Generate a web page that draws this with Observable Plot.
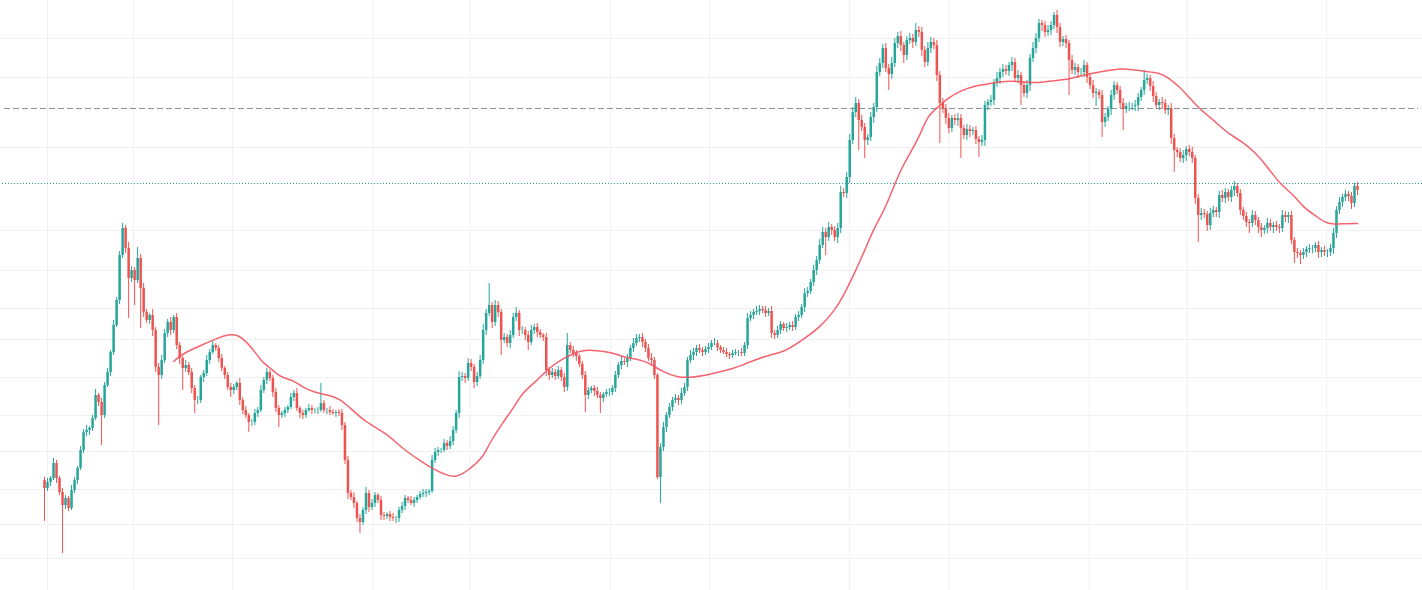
<!DOCTYPE html>
<html>
<head>
<meta charset="utf-8">
<script src="https://cdn.jsdelivr.net/npm/d3@7"></script>
<script src="https://cdn.jsdelivr.net/npm/@observablehq/plot@0.6"></script>
<style>
  html, body { margin: 0; padding: 0; background: #ffffff; }
  #chart svg { display: block; }
</style>
</head>
<body>
<div id="chart"></div>
<script>
// ---- data (price units; one candle per session, open = previous close) ----
const firstOpen = 120;
const closes = [
  112,118,122,137,122,108,95,102,92,110,
  120,132,150,168,170,172,182,205,198,185,
  215,228,248,275,300,345,372,352,322,330,
  320,342,312,288,280,285,270,233,225,240,
  267,278,270,283,255,242,232,235,228,212,
  200,200,223,227,240,248,255,252,242,232,
  225,213,210,213,217,200,190,185,178,178,
  187,190,210,220,228,222,208,192,185,187,
  190,193,203,207,192,187,185,190,192,190,
  190,190,197,190,190,188,187,188,187,175,
  140,107,103,97,82,78,90,107,93,97,
  105,100,85,84,86,83,82,82,90,94,
  102,100,97,100,103,106,107,108,109,140,
  148,150,150,157,154,159,170,187,223,224,
  222,237,233,218,224,240,270,287,295,278,
  295,288,260,263,257,265,283,287,270,270,
  265,258,270,273,268,265,263,230,225,228,
  224,230,223,213,255,250,247,244,236,225,
  205,210,212,209,205,202,206,208,208,212,
  225,235,239,238,242,252,257,262,263,258,
  252,242,240,225,123,153,173,185,193,200,
  202,200,207,213,240,245,248,252,250,248,
  251,253,257,257,253,250,248,246,245,247,
  248,248,247,255,282,285,288,289,291,290,
  287,289,267,265,270,276,272,273,275,273,
  283,285,293,307,309,318,330,340,355,368,
  363,373,370,363,372,408,407,423,460,488,
  497,480,473,460,463,483,493,528,537,552,
  532,526,537,557,564,555,545,560,562,558,
  570,568,550,538,552,558,555,525,497,492,
  482,472,482,480,482,472,465,471,469,470,
  461,458,460,495,498,500,517,522,528,531,
  529,535,538,522,525,515,507,515,542,552,
  562,577,575,568,570,575,585,573,558,561,
  557,540,530,533,528,528,535,523,515,507,
  508,505,478,483,491,505,515,510,497,491,
  494,494,494,495,503,510,520,522,514,504,
  495,498,497,490,492,462,450,448,442,445,
  451,448,442,402,385,387,386,375,387,390,
  388,405,402,408,403,410,414,407,390,384,
  378,377,385,380,373,370,372,377,373,375,
  373,372,385,383,385,360,348,347,345,348,
  351,352,352,355,348,350,348,348,352,367,
  390,398,403,406,404,397,414,410
];
const wickUp = [
  3,4,2,5,3,2,4,3,2,5, 3,2,4,3,5,2,3,6,2,4, 3,4,2,5,3,4,5,3,6,4, 3,11,4,5,3,2,6,3,4,5,
  4,3,5,2,4,3,2,5,3,4, 3,4,2,3,5,3,4,2,3,4, 2,3,4,3,2,5,3,4,2,3, 4,3,5,3,4,2,3,4,3,2,
  3,2,4,3,5,2,3,2,4,3, 2,3,20,3,2,4,3,2,3,4, 3,4,3,5,2,4,3,6,3,4, 3,2,4,3,2,3,4,2,3,4,
  3,2,4,3,2,3,4,3,2,5, 4,3,2,4,3,5,4,3,6,4, 3,5,4,3,4,5,6,4,22,3, 5,4,3,4,3,5,4,6,3,4,
  3,4,5,3,4,3,2,4,3,4, 3,4,3,4,12,3,4,3,2,3, 4,3,2,3,4,3,2,3,4,3, 4,3,5,3,4,3,5,4,3,4,
  3,4,5,3,2,4,5,3,4,3, 4,3,5,4,3,5,4,3,4,3, 3,4,3,5,3,2,3,4,2,3, 3,2,4,3,5,4,3,5,4,3,
  4,3,5,3,4,3,2,4,3,4, 3,4,3,5,4,3,5,4,6,5, 4,5,3,4,5,6,4,5,6,5, 6,4,5,4,3,5,4,6,5,4,
  5,4,6,5,4,5,3,4,5,4, 7,4,5,4,6,5,4,5,4,5, 4,5,3,4,5,4,3,5,4,3, 4,3,5,4,3,5,4,6,4,5,
  4,3,5,4,5,3,4,5,4,6, 5,4,3,4,5,4,3,5,4,3, 4,3,5,4,3,4,5,3,4,5, 4,3,5,4,3,5,4,3,4,5,
  3,4,3,5,4,3,10,4,3,5, 4,3,5,4,3,5,4,3,4,5, 3,4,5,3,4,5,4,3,5,4, 3,4,5,4,3,4,5,3,4,3,
  4,3,5,4,3,4,3,5,4,3, 4,3,5,4,3,4,3,4,3,4, 3,4,3,3,4,3,4,3,4,5, 4,5,3,4,3,4,3,4
];
const wickDown = [
  33,3,4,2,5,3,48,4,3,2, 3,4,2,3,4,5,3,2,4,30, 3,2,4,3,2,4,3,5,40,4, 25,3,40,5,3,4,6,5,50,4,
  3,4,5,3,4,6,22,4,3,5, 13,4,3,5,3,4,2,3,4,3, 4,3,7,4,3,5,4,3,10,4, 3,4,2,3,4,3,5,4,12,3,
  4,3,2,4,3,5,4,3,2,4, 3,4,2,3,4,3,2,4,3,5, 4,6,3,5,4,11,3,4,5,3, 4,3,5,4,3,4,3,5,4,3,
  4,3,2,4,3,2,3,4,3,2, 3,4,3,2,4,3,4,3,5,4, 5,3,4,6,4,3,4,5,3,6, 4,5,15,3,4,5,3,4,6,4,
  5,8,3,4,5,3,4,6,5,3, 4,3,4,5,4,3,4,5,3,4, 17,4,3,5,3,15,4,3,4,3, 4,3,4,3,5,3,4,3,4,5,
  4,3,5,4,2,26,4,5,3,4, 3,5,4,3,4,3,5,4,3,4, 3,4,3,2,4,3,2,3,4,3, 2,4,3,3,4,3,4,3,4,3,
  4,3,5,4,3,4,3,4,3,4, 3,4,3,5,4,3,4,5,4,3, 18,4,5,4,6,5,4,5,6,4, 5,30,4,18,5,4,6,5,4,5,
  4,16,5,4,5,6,8,5,4,6, 4,5,6,5,4,5,4,6,40,5, 6,5,4,5,6,30,4,5,6,4, 5,15,4,6,5,4,5,4,6,5,
  4,5,6,4,5,20,4,5,6,4, 5,4,6,5,4,5,4,6,5,4, 5,35,4,5,6,4,5,6,4,5, 13,4,15,5,4,6,5,4,5,21,
  4,5,4,5,6,4,5,4,5,6, 4,5,6,4,5,6,22,5,4,5, 6,4,5,6,27,5,4,6,5,4, 5,6,4,5,4,5,6,4,5,4,
  5,10,4,5,6,7,4,5,4,6, 4,5,4,5,6,4,11,5,9,4, 5,4,5,4,6,5,4,5,4,6, 5,4,5,4,5,6,4,5
];

// moving average (session index, value)
const maIndex = [
  43,46,52,58,61,64,66,69,72,74, 78,80,83,86,90,92,95,98,102,107,
  114,119,125,129,134,137,141,146,148,153, 156,159,164,168,173,179,184,189,193,198,
  201,206,211,215,220,224,229,232,240,246, 252,258,263,266,270,273,276,280,283,286,
  290,292,294,298,301,305,310,315,321,328, 332,336,341,345,350,354,358,362,366,371,
  374,378,381,384,388,391,394,399,403,408, 411,416,419,423,426,429,433,437
];
const maValue = [
  239,247,255,263,266,266,262,253,240,235, 225,222,220,213,208,207,205,202,192,178,
  167,152,140,132,125,123,130,143,157,180, 192,208,220,233,243,251,250,248,243,241,
  238,228,223,223,225,228,232,235,245,248, 260,273,290,305,330,350,372,393,417,437,
  457,470,485,495,503,510,515,517,520,518, 518,520,521,525,528,530,532,531,529,528,
  523,513,503,493,483,475,467,458,448,430, 417,405,393,385,378,376,377,377
];

// grid / reference levels
const gridPrices = [562,523,453,370,330,292,261,223,185,149,111,76,42];
const gridIndex = [1,29.67,62.67,109.33,141.67,188.33,221.33,268,301,347.67,380.33,426.67];
const dashedLevel = 492;
const dottedLevel = 417;

// ---- build table ----
const candles = closes.map((c, i) => {
  const o = i === 0 ? firstOpen : closes[i - 1];
  return {i, open: o, close: c, high: Math.max(o, c) + wickUp[i], low: Math.min(o, c) - wickDown[i], up: c >= o};
});
const ma = maIndex.map((d, k) => ({i: d, v: maValue[k]}));

// ---- layout ----
const W = 1422, H = 590;
const firstX = 44, lastX = 1357;
const pitch = (lastX - firstX) / (closes.length - 1);
const x0 = -firstX / pitch, x1 = x0 + W / pitch;
const UP = "#26a69a", DOWN = "#ef5350";
const col = d => d.up ? UP : DOWN;

const chart = Plot.plot({
  width: W, height: H, margin: 0,
  style: {background: "#ffffff"},
  x: {domain: [x0, x1], axis: null},
  y: {domain: [10, 600], axis: null},
  marks: [
    Plot.ruleY(gridPrices, {stroke: "#f0f0f3", strokeWidth: 1}),
    Plot.ruleX(gridIndex, {stroke: "#f0f0f3", strokeWidth: 1}),
    Plot.ruleY([dashedLevel], {x1: x0 + 4 / pitch, x2: x1 - 4 / pitch, stroke: "#8f9099", strokeWidth: 1, strokeDasharray: "6,3"}),
    Plot.ruleY([dottedLevel], {x1: x0 + 2 / pitch, x2: x1, stroke: "#22a38f", strokeWidth: 1, strokeDasharray: "1,2"}),
    Plot.ruleX(candles, {x: "i", y1: "low", y2: "high", stroke: col, strokeWidth: 1}),
    Plot.ruleX(candles, {x: "i", y1: "open", y2: "close", stroke: col, strokeWidth: 2.5}),
    Plot.line(ma, {x: "i", y: "v", stroke: "#f4525f", strokeWidth: 1.5, curve: "basis", strokeOpacity: 0.9})
  ]
});
document.getElementById("chart").appendChild(chart);
</script>
</body>
</html>
